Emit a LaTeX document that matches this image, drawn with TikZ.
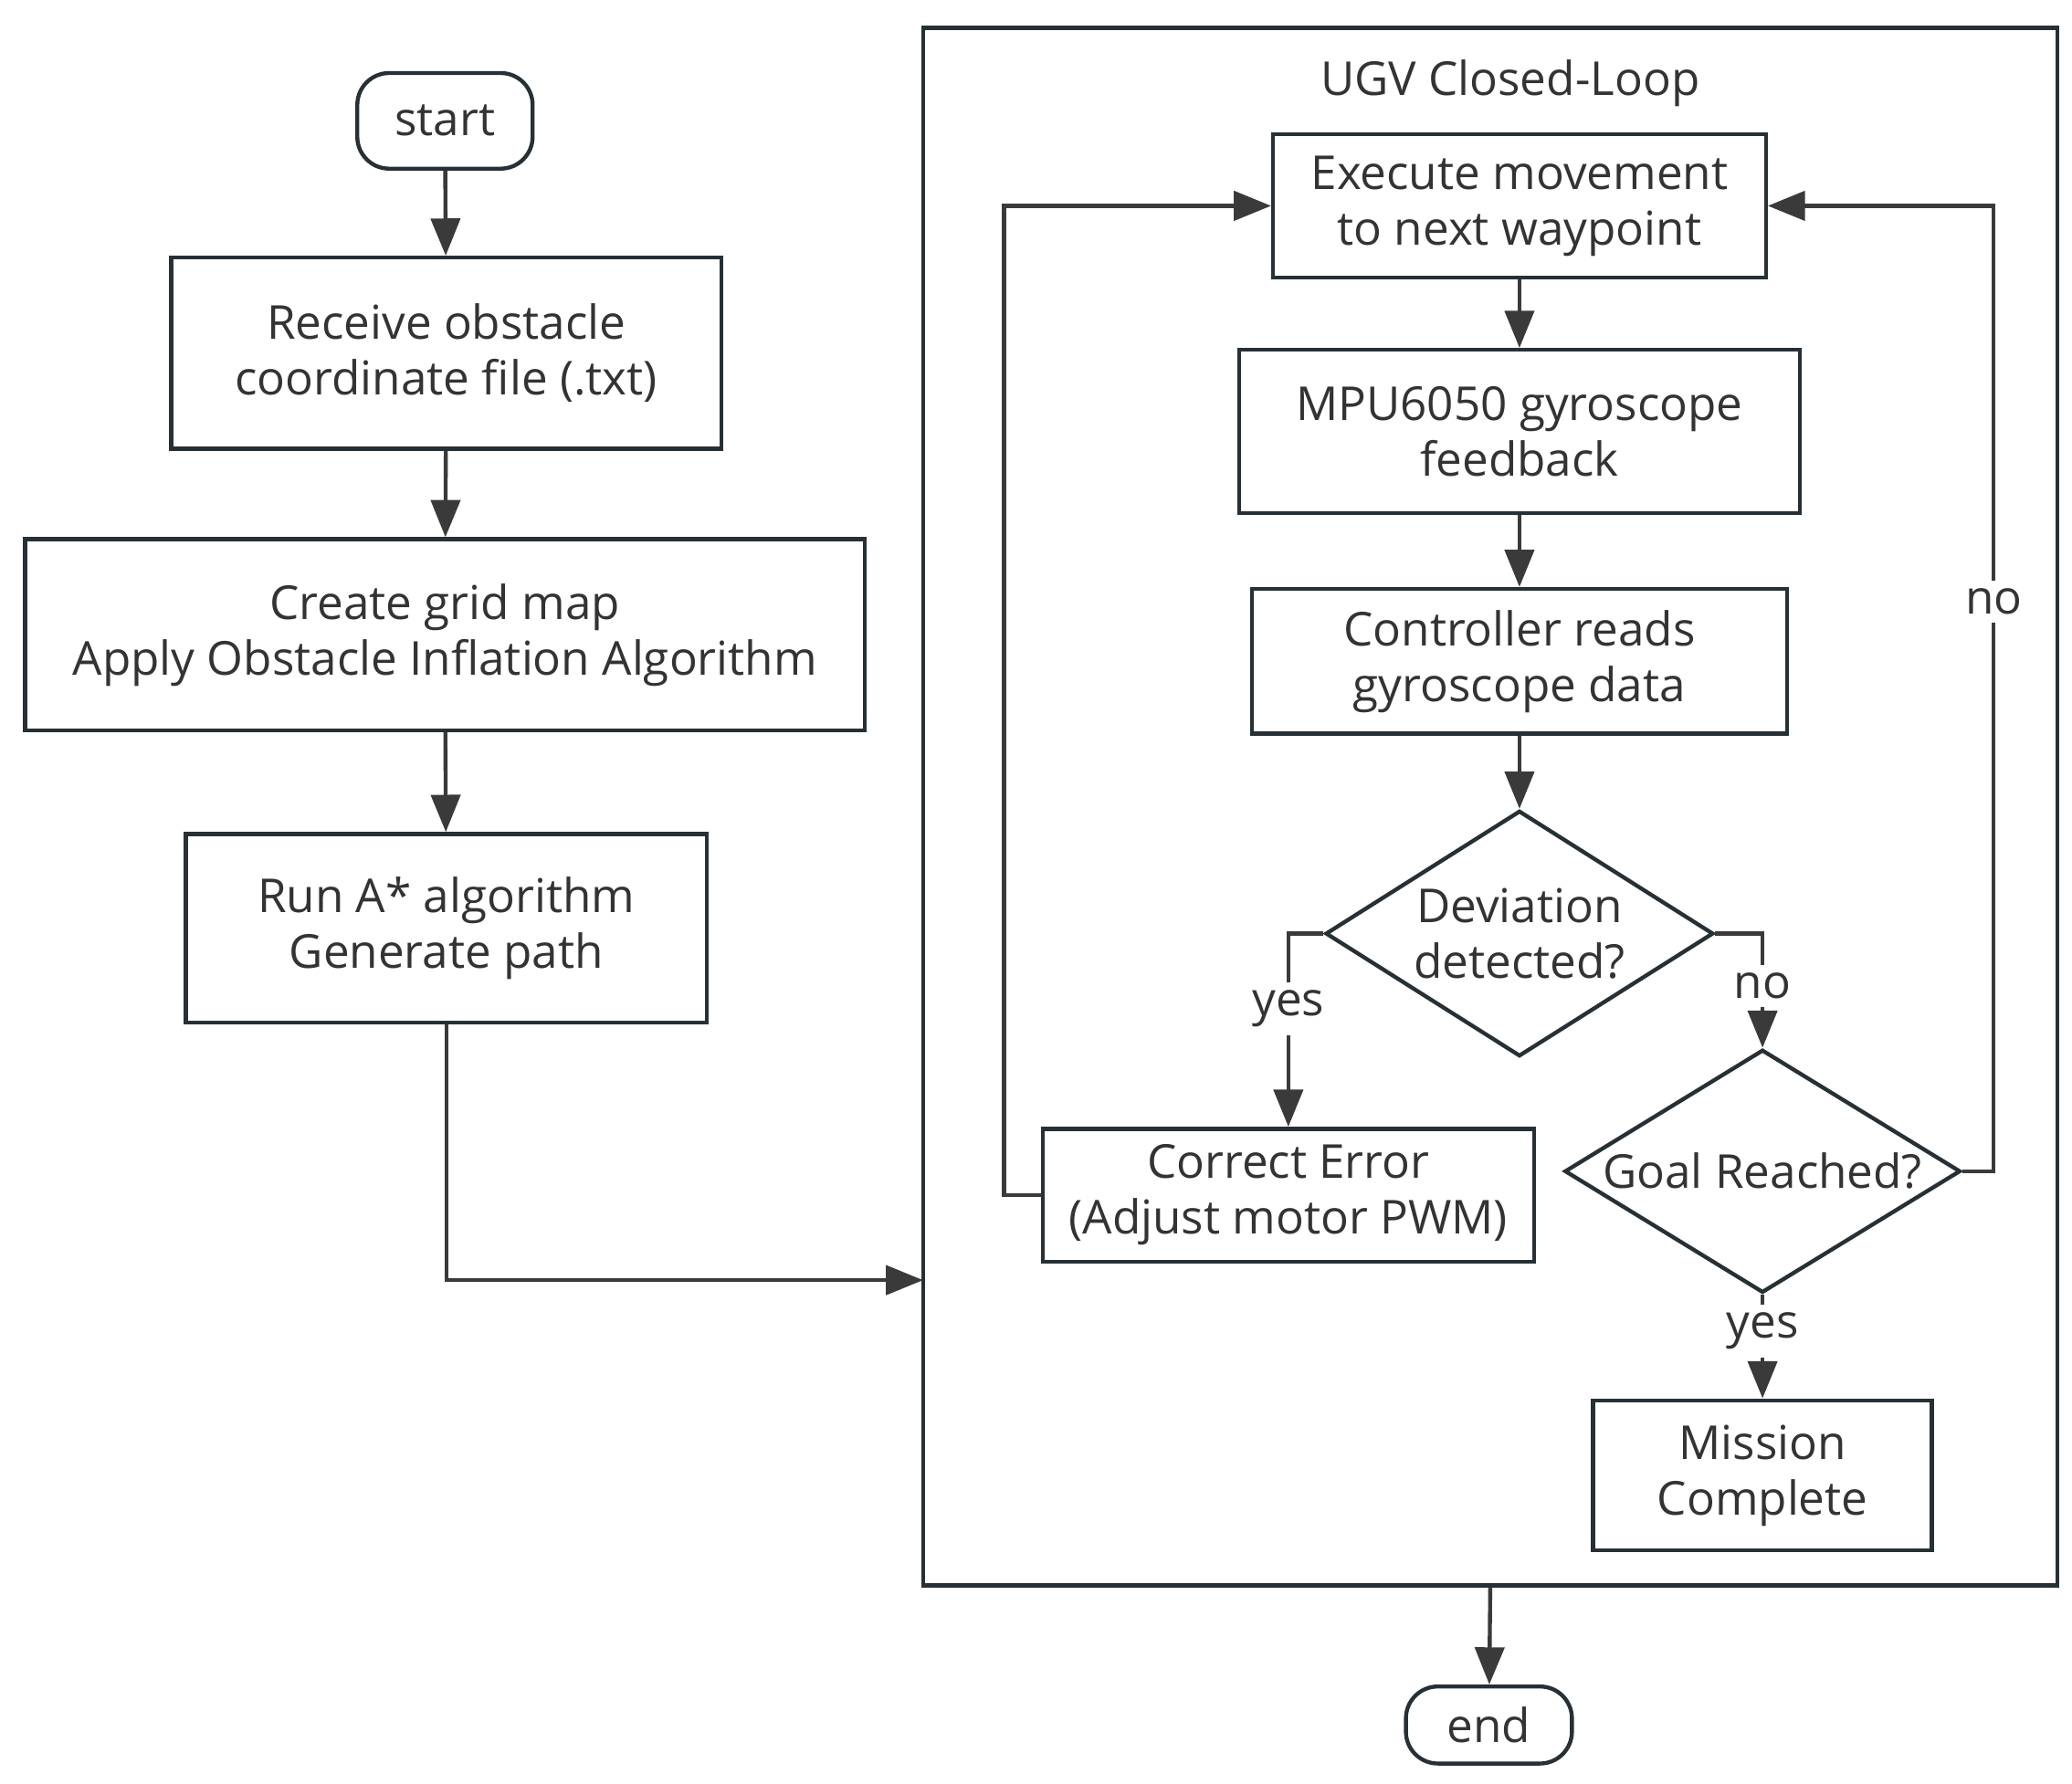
\documentclass[tikz,border=0pt]{standalone}
\usepackage{fontspec}
\setmainfont{Open Sans}
\usetikzlibrary{arrows.meta,shapes.geometric}
\definecolor{ink}{HTML}{333333}
\definecolor{edge}{HTML}{263035}
\definecolor{wire}{HTML}{3a3a3a}
\begin{document}
\begin{tikzpicture}[x=0.5pt,y=-0.5pt,
  every node/.style={font=\fontsize{17.6}{21}\selectfont, text=ink},
  box/.style={draw=edge, line width=1.5pt, rectangle, align=center, inner sep=0pt},
  term/.style={box, rounded corners=12pt},
  dec/.style={draw=edge, line width=1.5pt, diamond, align=center, inner sep=0pt},
  lbl/.style={fill=white, inner sep=3pt},
  conn/.style={draw=wire, line width=1.5pt, -{Triangle[length=14pt,width=11pt]}},
  plain/.style={draw=wire, line width=1.5pt}
]
\useasboundingbox (0,0) rectangle (1560,1343);
% left column
\node[term, minimum width=66pt, minimum height=36pt] (start) at (335,91) {start};
\node[box, minimum width=207pt, minimum height=72pt] (recv) at (336,266) {Receive obstacle\\coordinate file (.txt)};
\node[box, minimum width=316pt, minimum height=72pt] (grid) at (335,478) {Create grid map\\Apply Obstacle Inflation Algorithm};
\node[box, minimum width=196pt, minimum height=71pt] (astar) at (336,699) {Run A* algorithm\\Generate path};
% frame
\node[box, minimum width=427pt, minimum height=586.5pt] (frame) at (1122,607.5) {};
\node (title) at (1137,63) {UGV Closed-Loop};
% inner
\node[box, minimum width=185.5pt, minimum height=54pt] (exec) at (1144,155) {Execute movement\\to next waypoint};
\node[box, minimum width=211pt, minimum height=61.5pt] (mpu) at (1144,325) {MPU6050 gyroscope\\feedback};
\node[box, minimum width=201.5pt, minimum height=54.5pt] (ctrl) at (1144,498) {Controller reads\\gyroscope data};
\node[dec, minimum width=146pt, minimum height=92.5pt, aspect=1.58] (dev) at (1144,703) {\makebox[0pt]{Deviation}\\\makebox[0pt]{detected?}};
\node[box, minimum width=185pt, minimum height=50pt] (corr) at (970,900) {Correct Error\\(Adjust motor PWM)};
\node[dec, minimum width=149pt, minimum height=91.5pt, aspect=1.63] (goal) at (1327,882) {\makebox[0pt]{Goal Reached?}};
\node[box, minimum width=127.5pt, minimum height=56.5pt] (mission) at (1327,1111) {Mission\\Complete};
\node[term, minimum width=62.5pt, minimum height=29pt] (end) at (1121,1299) {end};
% coordinates
\coordinate (entry) at (695,964);
\coordinate (lx) at (756,900);
\coordinate (rx) at (1501,882);
\coordinate (dl) at (970,703);
\coordinate (dr) at (1327,703);
% connectors
\draw[conn] (start) -- (recv);
\draw[conn] (recv) -- (grid);
\draw[conn] (grid) -- (astar);
\draw[conn] (astar.south) |- (entry);
\draw[conn] (exec) -- (mpu);
\draw[conn] (mpu) -- (ctrl);
\draw[conn] (ctrl) -- (dev);
\draw[conn] (dev.west) -- (dl) -- node[lbl, pos=0.39] {yes} (corr.north);
\draw[conn] (dev.east) -- (dr) -- node[lbl, pos=0.46] {no} (goal.north);
\draw[conn] (goal.south) -- node[lbl, pos=0.35] {yes} (mission.north);
\draw[conn] (corr.west) -- (lx) |- (exec.west);
\draw[conn] (goal.east) -- (rx) -- node[lbl, pos=0.59] {no} (rx |- exec.east) -- (exec.east);
\draw[conn] (frame.south) -- (end);
\end{tikzpicture}
\end{document}
